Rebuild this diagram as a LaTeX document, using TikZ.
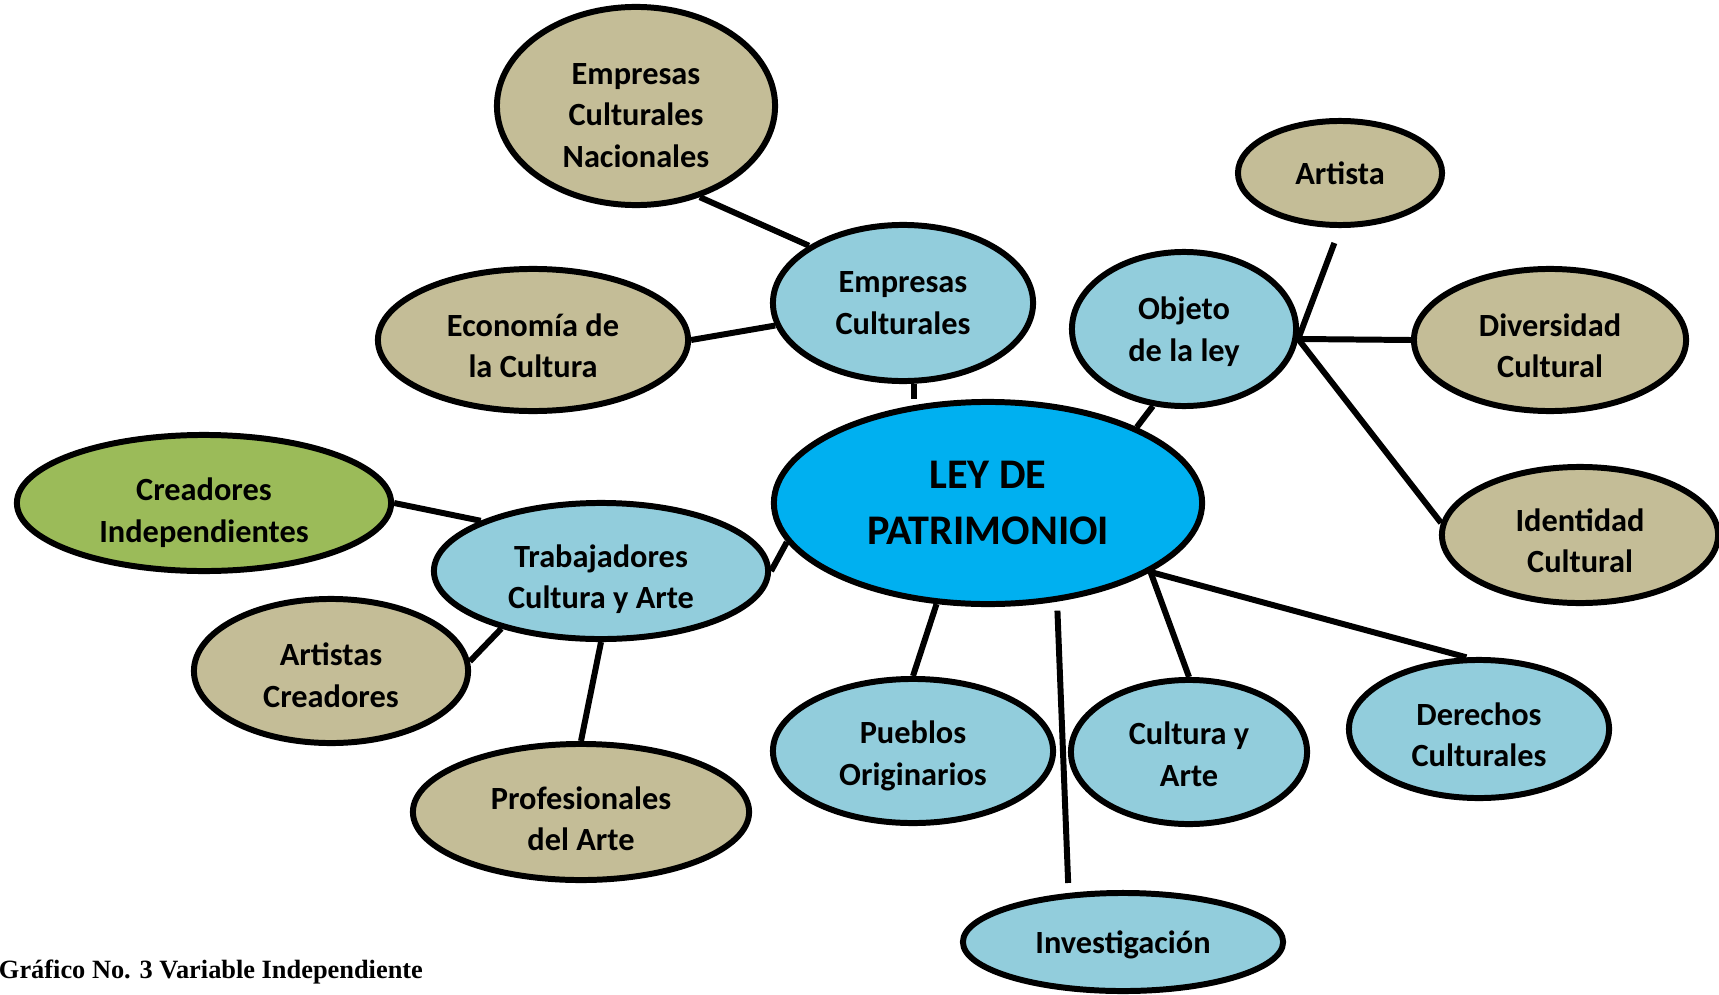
\documentclass[tikz,border=0pt]{standalone}
\usepackage{fontspec}
\setmainfont{Carlito}
\newfontfamily\captionfont{Liberation Serif}
\usetikzlibrary{shapes.geometric}

\definecolor{centro}{HTML}{00B0F0}
\definecolor{celeste}{HTML}{92CDDC}
\definecolor{arena}{HTML}{C4BD97}
\definecolor{oliva}{HTML}{9BBB59}

\begin{document}
\begin{tikzpicture}[x=0.01cm, y=-0.01cm, line width=1.7pt,
    main/.style = {draw, ellipse, inner sep=0pt, align=center, text height=21.5pt, text depth=0pt, font=\bfseries\fontsize{9.2}{11.8}\selectfont},
    core/.style = {main, fill=centro, text height={}, text depth={}, font=\bfseries\fontsize{12}{16}\selectfont},
    sub/.style = {main, fill=celeste},
    leaf/.style = {main, fill=arena}]
  \useasboundingbox (0,0) rectangle (1719,994);

  \node[core, minimum width=4.28cm, minimum height=2.02cm] (ley) at (988,503) {LEY DE\\PATRIMONIOI};

  % ramas
  \node[sub, minimum width=2.60cm, minimum height=1.56cm, text height={}, text depth={}] (emp) at (903,303) {Empresas\\Culturales};
  \node[sub, minimum width=2.24cm, minimum height=1.54cm, text height={}] (obj) at (1184,329) {Objeto\\de la ley};
  \node[sub, minimum width=3.34cm, minimum height=1.36cm] (trab) at (601,571) {Trabajadores\\Cultura y Arte};
  \node[sub, minimum width=2.80cm, minimum height=1.44cm, text height=19.5pt] (pueb) at (913,751) {Pueblos\\Originarios};
  \node[sub, minimum width=2.36cm, minimum height=1.44cm, text height=19.5pt] (cya) at (1189,752) {Cultura y\\Arte};
  \node[sub, minimum width=2.60cm, minimum height=1.38cm] (der) at (1479,729) {Derechos\\Culturales};
  \node[sub, minimum width=3.20cm, minimum height=0.98cm, text height={}] (inv) at (1123,942) {Investigación};

  % hojas
  \node[leaf, minimum width=2.78cm, minimum height=1.98cm, text height=34.9pt] (ecn) at (636,106) {Empresas\\Culturales\\Nacionales};
  \node[leaf, minimum width=3.10cm, minimum height=1.42cm] (eco) at (533,340) {Economía de\\la Cultura};
  \node[leaf, minimum width=2.04cm, minimum height=1.04cm, text height={}] (art) at (1340,173) {Artista};
  \node[leaf, minimum width=2.72cm, minimum height=1.42cm] (div) at (1550,340) {Diversidad\\Cultural};
  \node[leaf, minimum width=2.76cm, minimum height=1.36cm] (ide) at (1580,535) {Identidad\\Cultural};
  \node[main, fill=oliva, minimum width=3.74cm, minimum height=1.36cm, text height=22.4pt] (cre) at (204,503) {Creadores\\Independientes};
  \node[leaf, minimum width=2.74cm, minimum height=1.44cm, text height=20.6pt] (acr) at (331,671) {Artistas\\Creadores};
  \node[leaf, minimum width=3.36cm, minimum height=1.36cm, text height=22.1pt] (prof) at (581,812) {Profesionales\\del Arte};

  \node[anchor=base west, inner sep=0pt, font=\captionfont\bfseries\fontsize{7.5}{9}\selectfont] (cap) at (-4,978) {Gráfico No. 3 Variable Independiente};

  \path
  (emp.-82) edge (emp.-82 |- ley.north)
  (ley.27) edge (obj.248)
  (ley.191) edge (trab.east)
  (ley.243) edge (pueb.north)
  (ley.-55) edge[shorten <=0.09cm, shorten >=0.1cm] (inv.138)
  (ley.-23) edge (cya.north)
  (ley.-23) edge (der.100)
  (ecn.-55) edge (emp.north west)
  (eco.east) edge (emp.190)
  (obj.-5) edge[shorten >=0.16cm] (art.south)
  (obj.-5) edge (div.west)
  (obj.-5) edge (ide.175)
  (trab.north west) edge (cre.east)
  (trab.210) edge (acr.4)
  (trab.south) edge (prof.north);
\end{tikzpicture}
\end{document}
